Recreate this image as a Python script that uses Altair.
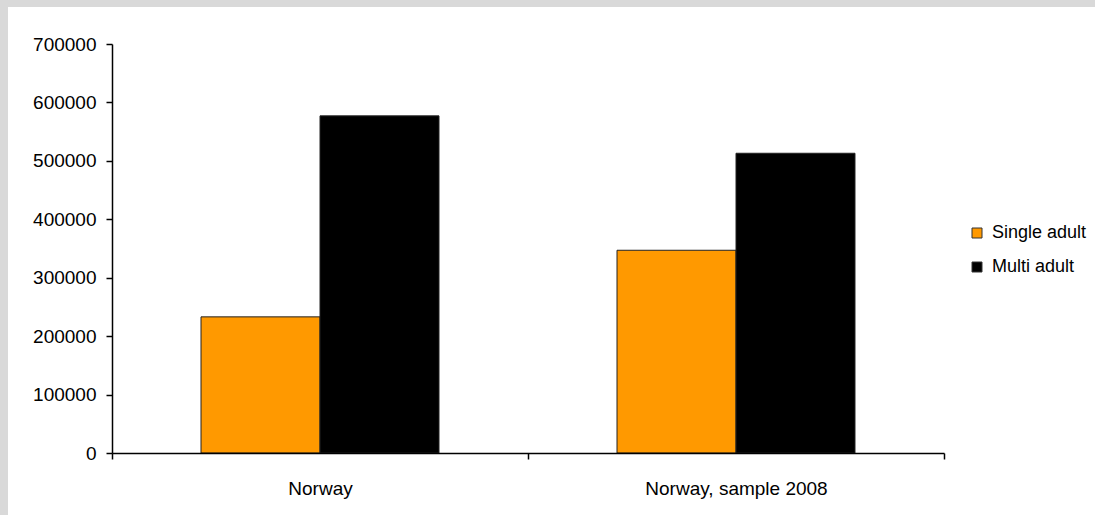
import altair as alt
import pandas as pd

# Household counts by type
groups = ["Norway", "Norway, sample 2008"]
series = ["Single adult", "Multi adult"]
single_adult = [233000, 347000]
multi_adult = [577000, 513000]
y_ticks = [0, 100000, 200000, 300000, 400000, 500000, 600000, 700000]

rows = []
for g, s_val, m_val in zip(groups, single_adult, multi_adult):
    rows.append({"group": g, "series": series[0], "value": s_val})
    rows.append({"group": g, "series": series[1], "value": m_val})
df = pd.DataFrame(rows)

FONT = "Liberation Sans"
W, H = 832, 409
PAD_L, PAD_T = 112, 44
TOTAL_W, TOTAL_H = 1095, 515

# White panel behind the chart, leaving a thin grey frame on the top and left
panel = alt.Chart(pd.DataFrame({"k": [0]})).mark_rect(color="white").encode(
    x=alt.value(8 - PAD_L),
    x2=alt.value(TOTAL_W - PAD_L),
    y=alt.value(7 - PAD_T),
    y2=alt.value(TOTAL_H - PAD_T),
)

bars = alt.Chart(df).mark_bar(stroke="#222222", strokeWidth=1).encode(
    x=alt.X(
        "group:N",
        sort=groups,
        scale=alt.Scale(paddingInner=0, paddingOuter=0),
        axis=alt.Axis(
            title=None,
            labelAngle=0,
            tickBand="extent",
            tickSize=6,
            tickWidth=1.5,
            tickColor="black",
            domainColor="black",
            domainWidth=1.5,
            labelPadding=20,
            labelFontSize=19,
            labelFont=FONT,
            labelColor="black",
            labelLimit=400,
            zindex=1,
        ),
    ),
    xOffset=alt.XOffset(
        "series:N",
        sort=series,
        scale=alt.Scale(paddingInner=0, paddingOuter=0.748),
    ),
    y=alt.Y(
        "value:Q",
        scale=alt.Scale(domain=[0, 700000], nice=False),
        axis=alt.Axis(
            title=None,
            values=y_ticks,
            format="d",
            grid=False,
            tickSize=6,
            tickWidth=1.5,
            tickColor="black",
            domainColor="black",
            domainWidth=1.5,
            labelPadding=10,
            labelFontSize=19,
            labelFont=FONT,
            labelColor="black",
            zindex=1,
        ),
    ),
    color=alt.Color(
        "series:N",
        sort=series,
        scale=alt.Scale(domain=series, range=["#ff9900", "#000000"]),
        legend=alt.Legend(
            title=None,
            orient="none",
            legendX=856,
            legendY=180,
            symbolType="square",
            symbolSize=100,
            symbolStrokeColor="#333333",
            symbolStrokeWidth=1,
            symbolOpacity=1,
            labelFontSize=18,
            labelFont=FONT,
            labelColor="black",
            labelOffset=6,
            rowPadding=16,
        ),
    ),
)

chart = alt.layer(panel, bars).properties(
    width=W,
    height=H,
    background="#d9d9d9",
    padding={"left": PAD_L, "top": PAD_T, "right": TOTAL_W - PAD_L - W, "bottom": TOTAL_H - PAD_T - H},
    autosize=alt.AutoSizeParams(type="none"),
).configure_view(strokeWidth=0)

chart.save("out.html", embed_options={"renderer": "svg", "actions": False})
